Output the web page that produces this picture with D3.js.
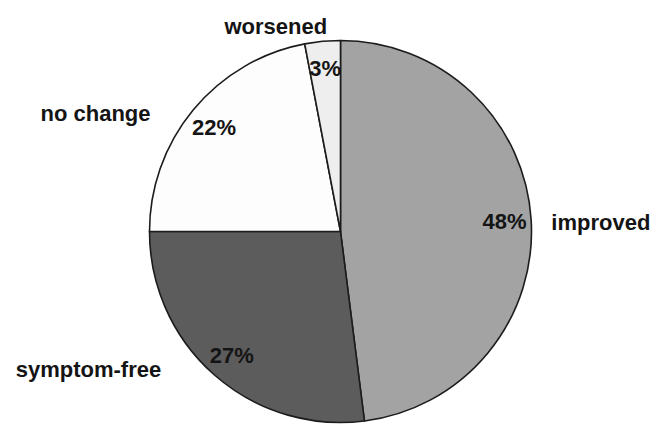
<!DOCTYPE html>
<html>
<head>
<meta charset="utf-8">
<script src="https://cdn.jsdelivr.net/npm/d3@7"></script>
<style>
  html, body { margin: 0; padding: 0; background: #fff; }
  svg { display: block; }
  text { font-family: "Liberation Sans", Arial, sans-serif; font-weight: bold; fill: #141414; }
</style>
</head>
<body>
<script>
// Outcome shares (percent), clockwise from 12 o'clock
const categories = ["improved", "symptom-free", "no change", "worsened"];
const shares = [48, 27, 22, 3];
const percentLabels = ["48%", "27%", "22%", "3%"];

const fills = ["#a3a3a3", "#5c5c5c", "#fdfdfd", "#eeeeee"];

const W = 663, H = 425;
const cx = 340.5, cy = 231.5, R = 191;

const svg = d3.select("body").append("svg")
  .attr("width", W).attr("height", H);

const g = svg.append("g").attr("transform", `translate(${cx},${cy})`);

const pie = d3.pie().sort(null).value(d => d.value);
const arcs = pie(categories.map((c, i) => ({ name: c, value: shares[i], label: percentLabels[i] })));

const arc = d3.arc().innerRadius(0).outerRadius(R);
const labelArc = d3.arc().innerRadius(R * 0.86).outerRadius(R * 0.86);

g.selectAll("path.slice")
  .data(arcs)
  .join("path")
  .attr("class", "slice")
  .attr("d", arc)
  .attr("fill", (d, i) => fills[i])
  .attr("stroke", "#1c1c1c")
  .attr("stroke-width", 1.6)
  .attr("stroke-linejoin", "round");

// percentage labels inside each slice
g.selectAll("text.pct")
  .data(arcs)
  .join("text")
  .attr("class", "pct")
  .attr("transform", d => `translate(${labelArc.centroid(d)})`)
  .attr("text-anchor", "middle")
  .attr("dy", "0.36em")
  .attr("font-size", 22)
  .text(d => d.data.label);

// category names placed around the pie (angle in degrees clockwise from top, distance from centre)
const outside = {
  "improved":     { angle: 87.5,  dist: 211, anchor: "start" },
  "symptom-free": { angle: 232.5, dist: 226, anchor: "end" },
  "no change":    { angle: 302,   dist: 224, anchor: "end" },
  "worsened":     { angle: 342.5, dist: 215, anchor: "middle" }
};

g.selectAll("text.cat")
  .data(arcs)
  .join("text")
  .attr("class", "cat")
  .attr("x", d => outside[d.data.name].dist * Math.sin(outside[d.data.name].angle * Math.PI / 180))
  .attr("y", d => -outside[d.data.name].dist * Math.cos(outside[d.data.name].angle * Math.PI / 180))
  .attr("text-anchor", d => outside[d.data.name].anchor)
  .attr("dy", "0.36em")
  .attr("font-size", 22)
  .text(d => d.data.name);
</script>
</body>
</html>
